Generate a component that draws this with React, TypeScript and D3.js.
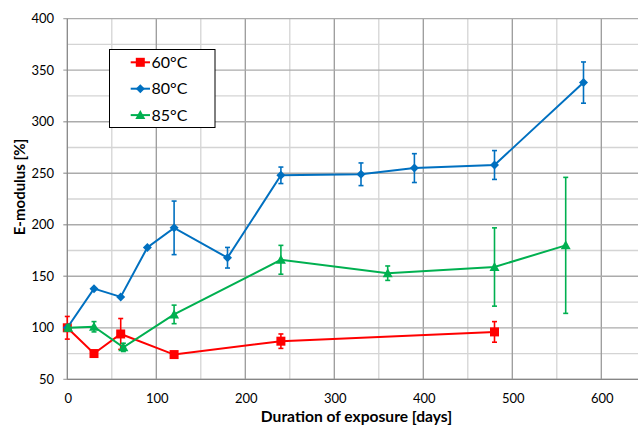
import React from "react";
import * as d3 from "d3";

const days60 = [0, 30, 60, 120, 240, 480];
const val60 = [100, 75, 94, 74, 87, 96];
const err60 = [11, 0, 15, 0, 7, 10];

const days80 = [0, 30, 60, 90, 120, 180, 240, 330, 390, 480, 580];
const val80 = [100, 138, 130, 178, 197, 168, 248, 249, 255, 258, 338];
const err80 = [0, 0, 0, 0, 26, 10, 8, 11, 14, 14, 20];

const days85 = [1, 30, 63, 120, 240, 360, 480, 560];
const val85 = [100, 101, 81, 113, 166, 153, 159, 180];
const err85 = [3, 5, 4, 9, 14, 7, 38, 66];

const xTicks = [0, 100, 200, 300, 400, 500, 600];
const yTicks = [50, 100, 150, 200, 250, 300, 350, 400];
const seriesNames = ["60°C", "80°C", "85°C"];

const W = 638;
const H = 425;
const FONT = "Lato, 'Open Sans', sans-serif";

export default function App() {
  const x = d3.scaleLinear().domain([0, 650]).range([67.3, 645.8]);
  const y = d3.scaleLinear().domain([50, 400]).range([379.3, 18.7]);

  const series = [
    { name: seriesNames[0], days: days60, vals: val60, errs: err60, color: "#FF0000", marker: "square" },
    { name: seriesNames[1], days: days80, vals: val80, errs: err80, color: "#0070C0", marker: "diamond" },
    { name: seriesNames[2], days: days85, vals: val85, errs: err85, color: "#00B050", marker: "triangle" },
  ];

  const line = d3
    .line<[number, number]>()
    .x((d) => x(d[0]))
    .y((d) => y(d[1]));

  const marker = (type: string, cx: number, cy: number, color: string, key: string) => {
    if (type === "square") {
      return <rect key={key} x={cx - 4.5} y={cy - 4.5} width={9} height={9} fill={color} />;
    }
    if (type === "diamond") {
      return (
        <path key={key} d={`M${cx},${cy - 4.5}L${cx + 4.5},${cy}L${cx},${cy + 4.5}L${cx - 4.5},${cy}Z`} fill={color} />
      );
    }
    return (
      <path key={key} d={`M${cx},${cy - 5}L${cx + 5},${cy + 4}L${cx - 5},${cy + 4}Z`} fill={color} />
    );
  };

  const minorX = d3.range(50, 651, 100);
  const minorY = d3.range(75, 400, 50);

  return (
    <svg
      width={W}
      height={H}
      style={{ position: "absolute", left: 0, top: 0, background: "#fff" }}
      fontFamily={FONT}
    >
      <rect x={0} y={0} width={W} height={H} fill="#fff" />
      {/* minor grid */}
      {minorX.map((v) => (
        <line key={"mx" + v} x1={x(v)} x2={x(v)} y1={y(400)} y2={y(50)} stroke="#d4d4d4" strokeWidth={1.3} />
      ))}
      {minorY.map((v) => (
        <line key={"my" + v} x1={x(0)} x2={W} y1={y(v)} y2={y(v)} stroke="#d4d4d4" strokeWidth={1.3} />
      ))}
      {/* major grid */}
      {xTicks.slice(1).map((v) => (
        <line key={"gx" + v} x1={x(v)} x2={x(v)} y1={y(400)} y2={y(50)} stroke="#9a9a9a" strokeWidth={1.3} />
      ))}
      {yTicks.map((v) => (
        <line key={"gy" + v} x1={x(0) - 4} x2={W} y1={y(v)} y2={y(v)} stroke="#ababab" strokeWidth={1.3} />
      ))}
      {/* axes */}
      <line x1={x(0)} x2={x(0)} y1={y(400)} y2={y(50)} stroke="#868686" strokeWidth={1.3} />
      <line x1={x(0)} x2={W} y1={y(50)} y2={y(50)} stroke="#868686" strokeWidth={1.3} />

      {/* tick labels */}
      {yTicks.map((v) => (
        <text key={"ty" + v} x={54} y={y(v)} dy="0.35em" textAnchor="end" fontSize={13} fill="#000">
          {v}
        </text>
      ))}
      {xTicks.map((v) => (
        <text key={"tx" + v} x={x(v) + 1} y={403} textAnchor="middle" fontSize={13} fill="#000">
          {v}
        </text>
      ))}

      {/* axis titles */}
      <text x={356.5} y={421.5} textAnchor="middle" fontSize={15.6} fontWeight="bold" fill="#000">
        Duration of exposure [days]
      </text>
      <text
        transform={`translate(24.5,187) rotate(-90)`}
        textAnchor="middle"
        fontSize={15}
        fontWeight="bold"
        fill="#000"
      >
        E-modulus [%]
      </text>

      {/* series */}
      {series.map((s) => {
        const pts: [number, number][] = s.days.map((d, i) => [d, s.vals[i]]);
        return (
          <g key={s.name}>
            <path d={line(pts) || ""} fill="none" stroke={s.color} strokeWidth={2} />
            {pts.map((p, i) =>
              s.errs[i] > 0 ? (
                <g key={"e" + i} stroke={s.color} strokeWidth={1.6}>
                  <line x1={x(p[0])} x2={x(p[0])} y1={y(p[1] + s.errs[i])} y2={y(p[1] - s.errs[i])} />
                  <line x1={x(p[0]) - 2.5} x2={x(p[0]) + 2.5} y1={y(p[1] + s.errs[i])} y2={y(p[1] + s.errs[i])} />
                  <line x1={x(p[0]) - 2.5} x2={x(p[0]) + 2.5} y1={y(p[1] - s.errs[i])} y2={y(p[1] - s.errs[i])} />
                </g>
              ) : null
            )}
            {pts.map((p, i) => marker(s.marker, x(p[0]), y(p[1]), s.color, "m" + i))}
          </g>
        );
      })}

      {/* legend */}
      <rect x={109.5} y={49.5} width={105.5} height={78} fill="#fff" stroke="#000" strokeWidth={1} />
      {series.map((s, i) => {
        const cy = 62.3 + i * 26.4;
        return (
          <g key={"lg" + s.name}>
            <line x1={130.7} x2={150} y1={cy} y2={cy} stroke={s.color} strokeWidth={2} />
            {marker(s.marker, 140.3, cy, s.color, "lm" + i)}
            <text x={151.5} y={cy} dy="0.36em" fontSize={16} fill="#000">
              {s.name}
            </text>
          </g>
        );
      })}
    </svg>
  );
}
